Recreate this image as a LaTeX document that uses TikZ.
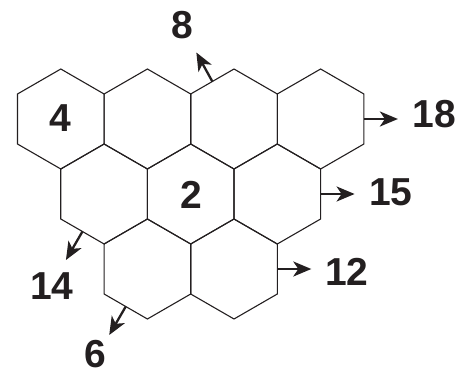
\documentclass[tikz,border=0pt]{standalone}
\usepackage{fontspec}
\setmainfont{Liberation Sans}
\usetikzlibrary{shapes.geometric,arrows.meta,calc}
\definecolor{ink}{HTML}{231F20}
\begin{document}
\begin{tikzpicture}[x=1pt,y=-1pt,
  hexa/.style={regular polygon, regular polygon sides=6, shape border rotate=30,
    minimum size=100pt, inner sep=0pt, outer sep=0pt, draw=ink, line width=1.1pt},
  arr/.style={draw=ink, line width=2.3pt, -{Stealth[length=18pt,width=15pt,inset=5pt]}},
  lbl/.style={inner sep=0pt, text=ink, font=\fontsize{39}{40}\selectfont\bfseries}]
\useasboundingbox (0,0) rectangle (460,374);
% row 1
\node[hexa] (h11) at (60.8,119) {};
\node[hexa] (h12) at (147.4,119) {};
\node[hexa] (h13) at (234.0,119) {};
\node[hexa] (h14) at (320.6,119) {};
% row 2
\node[hexa] (h21) at (104.1,194) {};
\node[hexa] (h22) at (190.7,194) {};
\node[hexa] (h23) at (277.3,194) {};
% row 3
\node[hexa] (h31) at (147.4,269) {};
\node[hexa] (h32) at (234.0,269) {};
% inner labels
\node[lbl] (n4) at (60.5,118) {4};
\node[lbl] (n2) at (191,195) {2};
% arrow ends
\coordinate (t8) at ($(h13.120)+(-16,-29)$);
\coordinate (t18) at ($(h14.0)+(34,0)$);
\coordinate (t15) at ($(h23.0)+(34,0)$);
\coordinate (t12) at ($(h32.0)+(34,0)$);
\coordinate (t14) at ($(h21.240)+(-16.5,28.5)$);
\coordinate (t6) at ($(h31.240)+(-16.5,28.5)$);
\draw[arr] (h13.120) -- (t8);
\draw[arr] (h14.0) -- (t18);
\draw[arr] (h23.0) -- (t15);
\draw[arr] (h32.0) -- (t12);
\draw[arr] (h21.240) -- (t14);
\draw[arr] (h31.240) -- (t6);
% outer labels
\node[lbl] (n8) at (182,25) {8};
\node[lbl] (n18) at (434,114) {18};
\node[lbl] (n15) at (391,192) {15};
\node[lbl] (n12) at (347,272) {12};
\node[lbl] (n14) at (52,286) {14};
\node[lbl] (n6) at (95,354) {6};
\end{tikzpicture}
\end{document}
